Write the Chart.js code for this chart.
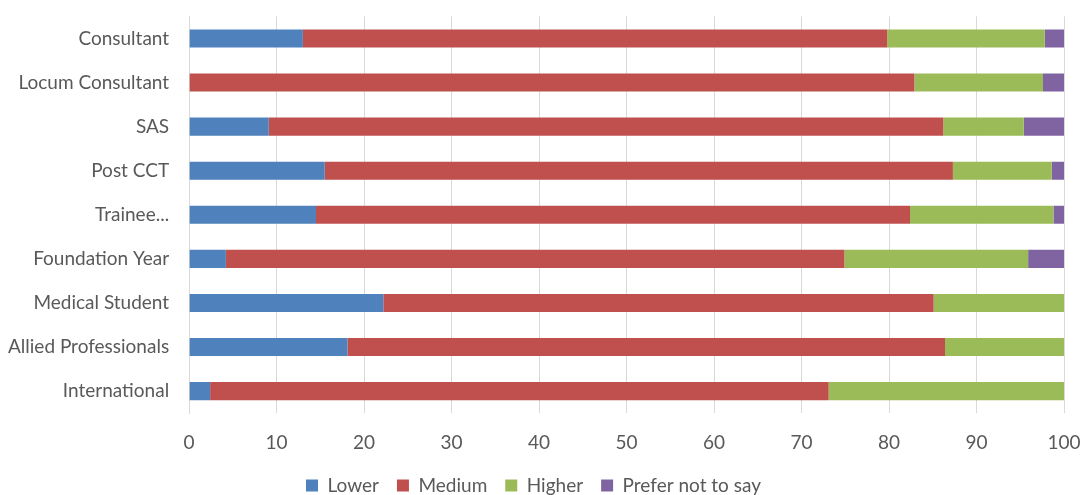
<!DOCTYPE html>
<html>
<head>
<meta charset="utf-8">
<script src="https://cdn.jsdelivr.net/npm/chart.js@4/dist/chart.umd.min.js"></script>
<style>
  html, body { margin: 0; padding: 0; background: #fff; }
  #wrap { width: 1081px; height: 495px; }
</style>
</head>
<body>
<div id="wrap"><canvas id="chart"></canvas></div>
<script>
// share of respondents (%) per grade
const grades = ['Consultant', 'Locum Consultant', 'SAS', 'Post CCT', 'Trainee...',
                'Foundation Year', 'Medical Student', 'Allied Professionals', 'International'];
const lower    = [13.0, 0,    9.1,  15.5, 14.5, 4.2,  22.2, 18.1, 2.4];
const medium   = [66.8, 82.9, 77.1, 71.8, 67.9, 70.7, 62.9, 68.3, 70.7];
const higher   = [18.0, 14.7, 9.2,  11.3, 16.4, 21.0, 14.9, 13.6, 26.9];
const noAnswer = [2.2,  2.4,  4.6,  1.4,  1.2,  4.1,  0,    0,    0];
const xTicks   = [0, 10, 20, 30, 40, 50, 60, 70, 80, 90, 100];

const font = "Lato, 'Open Sans', sans-serif";
const textColor = '#595959';
const gridColor = '#d9d9d9';

function series(label, data, color) {
    return {
        label: label,
        data: data,
        backgroundColor: color,
        borderWidth: 0,
        barPercentage: 0.82,
        categoryPercentage: 0.5
    };
}

new Chart(document.getElementById('chart'), {
    type: 'bar',
    data: {
        labels: grades,
        datasets: [
            series('Lower', lower, '#4f81bd'),
            series('Medium', medium, '#c0504d'),
            series('Higher', higher, '#9bbb59'),
            series('Prefer not to say', noAnswer, '#8064a2')
        ]
    },
    options: {
        indexAxis: 'y',
        responsive: true,
        maintainAspectRatio: false,
        animation: false,
        // negative bottom pulls the legend down towards the edge
        layout: { padding: { top: 0, right: 17, left: 3, bottom: -10 } },
        plugins: {
            tooltip: { enabled: false },
            legend: {
                position: 'bottom',
                labels: {
                    boxWidth: 12,
                    boxHeight: 12,
                    padding: 18,
                    color: textColor,
                    font: { family: font, size: 19 }
                }
            }
        },
        scales: {
            x: {
                stacked: true,
                min: 0,
                max: 100,
                afterBuildTicks: axis => { axis.ticks = xTicks.map(v => ({ value: v })); },
                afterFit: axis => { axis.height += 4; },
                // invisible tick marks just push the labels down
                grid: { color: gridColor, tickLength: 18, tickColor: 'rgba(0,0,0,0)' },
                border: { display: false },
                ticks: { color: textColor, padding: 0, font: { family: font, size: 19 } }
            },
            y: {
                stacked: true,
                grid: { display: false, tickLength: 15 },
                border: { color: gridColor },
                ticks: { color: textColor, padding: 5, font: { family: font, size: 19 } }
            }
        }
    }
});
</script>
</body>
</html>
